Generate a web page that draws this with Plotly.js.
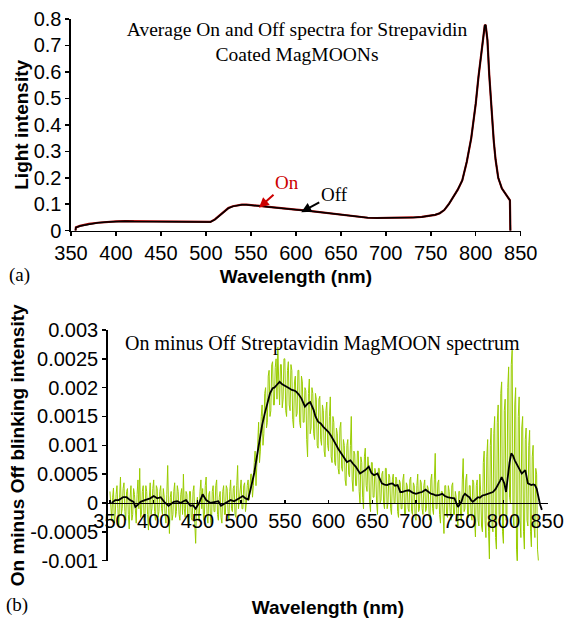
<!DOCTYPE html>
<html>
<head>
<meta charset="utf-8">
<script src="https://cdn.plot.ly/plotly-3.0.1.min.js"></script>
<style>html,body{margin:0;padding:0;background:#fff;}#chart{width:566px;height:619px;}</style>
</head>
<body>
<div id="chart"></div>
<script>
// ---------- Panel (a): average On and Off spectra ----------
const topWavelength = [355,355.5,360,370,380,390,400,410,420,440,
  460,480,500,505,510,515,520,525,530,535,
  540,545,550,560,570,580,590,600,610,620,
  630,640,650,660,670,680,690,700,710,720,
  730,740,750,755,760,765,770,775,780,785,
  790,795,800,803,806,808,810,811,813,815,
  817,820,822,825,829,833,838,838.5];
const offSpectrum = [0,0.012,0.018,0.025,0.030,0.033,0.035,0.036,0.035,0.034,
  0.033,0.033,0.032,0.033,0.042,0.057,0.072,0.085,0.092,0.096,
  0.098,0.098,0.097,0.093,0.090,0.087,0.084,0.080,0.077,0.073,
  0.069,0.065,0.060,0.056,0.052,0.049,0.048,0.048,0.048,0.049,
  0.050,0.052,0.057,0.060,0.066,0.078,0.10,0.125,0.155,0.19,
  0.26,0.35,0.48,0.58,0.67,0.73,0.775,0.778,0.72,0.59,
  0.48,0.34,0.27,0.20,0.16,0.14,0.115,0];
const onSpectrum = [0,0.0125,0.018,0.0255,0.030,0.0335,0.0355,0.036,0.0355,0.034,
  0.0335,0.033,0.032,0.033,0.0425,0.0575,0.0725,0.0855,0.0925,0.0965,
  0.0985,0.0985,0.0975,0.0935,0.090,0.0875,0.084,0.080,0.077,0.073,
  0.069,0.065,0.060,0.056,0.052,0.049,0.048,0.048,0.0485,0.049,
  0.050,0.052,0.057,0.060,0.066,0.078,0.10,0.125,0.155,0.19,
  0.26,0.35,0.48,0.58,0.67,0.73,0.775,0.778,0.72,0.59,
  0.48,0.34,0.27,0.20,0.16,0.14,0.115,0];

// ---------- Panel (b): On minus Off spectrum (raw, 1 nm) ----------
const diffWavelength = [
  350,351,352,353,354,355,356,357,358,359, 360,361,362,363,364,365,366,367,368,369,
  370,371,372,373,374,375,376,377,378,379, 380,381,382,383,384,385,386,387,388,389,
  390,391,392,393,394,395,396,397,398,399, 400,401,402,403,404,405,406,407,408,409,
  410,411,412,413,414,415,416,417,418,419, 420,421,422,423,424,425,426,427,428,429,
  430,431,432,433,434,435,436,437,438,439, 440,441,442,443,444,445,446,447,448,449,
  450,451,452,453,454,455,456,457,458,459, 460,461,462,463,464,465,466,467,468,469,
  470,471,472,473,474,475,476,477,478,479, 480,481,482,483,484,485,486,487,488,489,
  490,491,492,493,494,495,496,497,498,499, 500,501,502,503,504,505,506,507,508,509,
  510,511,512,513,514,515,516,517,518,519, 520,521,522,523,524,525,526,527,528,529,
  530,531,532,533,534,535,536,537,538,539, 540,541,542,543,544,545,546,547,548,549,
  550,551,552,553,554,555,556,557,558,559, 560,561,562,563,564,565,566,567,568,569,
  570,571,572,573,574,575,576,577,578,579, 580,581,582,583,584,585,586,587,588,589,
  590,591,592,593,594,595,596,597,598,599, 600,601,602,603,604,605,606,607,608,609,
  610,611,612,613,614,615,616,617,618,619, 620,621,622,623,624,625,626,627,628,629,
  630,631,632,633,634,635,636,637,638,639, 640,641,642,643,644,645,646,647,648,649,
  650,651,652,653,654,655,656,657,658,659, 660,661,662,663,664,665,666,667,668,669,
  670,671,672,673,674,675,676,677,678,679, 680,681,682,683,684,685,686,687,688,689,
  690,691,692,693,694,695,696,697,698,699, 700,701,702,703,704,705,706,707,708,709,
  710,711,712,713,714,715,716,717,718,719, 720,721,722,723,724,725,726,727,728,729,
  730,731,732,733,734,735,736,737,738,739, 740,741,742,743,744,745,746,747,748,749,
  750,751,752,753,754,755,756,757,758,759, 760,761,762,763,764,765,766,767,768,769,
  770,771,772,773,774,775,776,777,778,779, 780,781,782,783,784,785,786,787,788,789,
  790,791,792,793,794,795,796,797,798,799, 800,801,802,803,804,805,806,807,808,809,
  810,811,812,813,814,815,816,817,818,819, 820,821,822,823,824,825,826,827,828,829,
  830,831,832,833,834,835,836,837,838,839, 840];
const diffRaw = [
  2e-4,-1e-4,-3e-4,1e-4,2.6e-4,-3.5e-4,-2e-4,1.5e-4,3e-4,-1e-4,
  -4.2e-4,1e-4,4.5e-4,-2e-4,-1e-4,2.5e-4,3.5e-4,-1.5e-4,-3e-4,2e-4,
  2.5e-4,-2e-4,-4.5e-4,1e-4,3e-4,-3e-4,-2e-4,2.5e-4,1.5e-4,-1e-4,
  -3.5e-4,1.5e-4,4e-4,-1e-4,6e-4,-2.5e-4,-2e-4,2e-4,3e-4,-3e-4,
  -2.5e-4,3e-4,2e-4,-2e-4,-4.7e-4,1e-4,3.5e-4,-2e-4,-1e-4,2.5e-4,
  4e-4,-1.5e-4,-3e-4,3e-4,2.5e-4,-2.5e-4,-1.5e-4,2e-4,3e-4,-1e-4,
  -2e-4,2.5e-4,1e-4,-2e-4,-3.5e-4,1.5e-4,6.5e-4,-1e-4,-5.3e-4,1e-4,
  2e-4,-3e-4,-2e-4,2e-4,3.5e-4,-2.5e-4,-1.5e-4,3e-4,2e-4,-2e-4,
  -3e-4,1.5e-4,2.5e-4,-2e-4,5e-4,-1e-4,-2.5e-4,2e-4,1.5e-4,-3e-4,
  -4e-4,2e-4,2e-4,-2.5e-4,-3e-4,2e-4,3e-4,-3.5e-4,-7e-4,0,
  1e-4,-2e-4,-3e-4,2e-4,4e-4,-1e-4,2.5e-4,-3e-4,-2e-4,3e-4,
  4.5e-4,-2e-4,-3.5e-4,1.5e-4,2e-4,-3e-4,-4e-4,2e-4,3e-4,-1.5e-4,
  -1.5e-4,3e-4,4e-4,-2e-4,-3e-4,1e-4,2e-4,-2.5e-4,-3.5e-4,2e-4,
  3e-4,-2e-4,-2e-4,3e-4,2.5e-4,-1.5e-4,-3e-4,2e-4,4e-4,-1e-4,
  -1.5e-4,2.5e-4,3e-4,-2e-4,-2.5e-4,3e-4,6.5e-4,-1e-4,1e-4,3e-4,
  4e-4,-1e-4,-1e-4,3e-4,3.5e-4,-1.5e-4,0,3e-4,4e-4,0.5e-4,
  2e-4,5e-4,5e-4,1e-4,3e-4,7e-4,9e-4,3e-4,6e-4,11e-4,
  14e-4,7e-4,9e-4,15e-4,17e-4,10e-4,12e-4,19e-4,20e-4,13e-4,
  14e-4,22e-4,23e-4,15e-4,16e-4,24e-4,24.5e-4,17e-4,17e-4,23.5e-4,
  25e-4,18e-4,27e-4,21e-4,17e-4,24e-4,24e-4,16.5e-4,18e-4,25e-4,
  25e-4,16e-4,15e-4,23e-4,24.5e-4,17e-4,16e-4,24e-4,23e-4,14.5e-4,
  13e-4,21e-4,22e-4,15e-4,15.5e-4,23e-4,23e-4,14e-4,13e-4,22e-4,
  21e-4,14e-4,14e-4,20e-4,19.5e-4,11e-4,8e-4,19e-4,21.5e-4,12e-4,
  13e-4,20e-4,19e-4,12e-4,11e-4,19e-4,18e-4,10e-4,9.5e-4,18e-4,
  18.5e-4,11e-4,10e-4,17e-4,16e-4,9e-4,8e-4,16e-4,17.5e-4,10e-4,
  9e-4,15e-4,18.4e-4,8e-4,7e-4,15e-4,14e-4,7e-4,6.5e-4,13e-4,
  12e-4,6e-4,5e-4,13e-4,14e-4,6e-4,5.5e-4,11e-4,10e-4,4e-4,
  3e-4,10e-4,11e-4,5e-4,4.5e-4,10e-4,15e-4,4e-4,2e-4,9e-4,
  8.5e-4,3e-4,3e-4,9e-4,9e-4,2e-4,0,8e-4,7e-4,1e-4,
  -1e-4,8e-4,9.5e-4,3e-4,2e-4,8e-4,6e-4,0,-1.5e-4,7e-4,
  7e-4,1e-4,1e-4,6e-4,5e-4,0,-2e-4,6e-4,6e-4,0,
  0.5e-4,5e-4,5.5e-4,0,-1e-4,6e-4,6e-4,-1e-4,0,5e-4,
  4.5e-4,-1e-4,-2e-4,4e-4,5e-4,0,0,4.5e-4,4e-4,-1.5e-4,
  -2.5e-4,4e-4,3.5e-4,-1e-4,-1e-4,4e-4,5e-4,-2e-4,-2e-4,3.5e-4,
  3e-4,-1e-4,-1.5e-4,4e-4,4.5e-4,-1.5e-4,-2e-4,3.5e-4,3e-4,-2.5e-4,
  -3e-4,3e-4,5e-4,-1.5e-4,-1e-4,4e-4,3.5e-4,-1e-4,-2e-4,3e-4,
  4e-4,-1.5e-4,-1e-4,3e-4,2.5e-4,-2e-4,-3e-4,4e-4,5e-4,-1e-4,
  -2e-4,4e-4,8.6e-4,-1e-4,-1e-4,3.5e-4,4e-4,-2e-4,-3.5e-4,2e-4,
  2e-4,-2e-4,-5.3e-4,3e-4,3e-4,-2e-4,-2.5e-4,3e-4,2e-4,-1.5e-4,
  -3e-4,3e-4,3.5e-4,-2e-4,-2e-4,2e-4,1e-4,-3e-4,-4e-4,2e-4,
  2e-4,-2e-4,-3e-4,4e-4,7.7e-4,-1.5e-4,-1e-4,4e-4,5e-4,-2e-4,
  -2.5e-4,3e-4,3e-4,-2e-4,-3e-4,4e-4,3.5e-4,-3e-4,-5.9e-4,3e-4,
  4e-4,-3e-4,-4e-4,5e-4,2e-4,-4e-4,-5e-4,7e-4,9e-4,-3e-4,
  -6e-4,8e-4,11e-4,-5e-4,-9.7e-4,10e-4,13e-4,-4e-4,-5e-4,12e-4,
  15e-4,-6e-4,-8e-4,14e-4,17e-4,-2e-4,-3e-4,19e-4,21e-4,-5e-4,
  -7e-4,16e-4,18e-4,-3e-4,-2e-4,20e-4,23.6e-4,1e-4,0,24e-4,
  26.5e-4,-2e-4,-4e-4,17e-4,20e-4,-8e-4,-11.4e-4,15e-4,18.4e-4,-3e-4,
  -6e-4,13e-4,15e-4,-5e-4,-8e-4,11e-4,13e-4,-3e-4,-4e-4,10e-4,
  12.6e-4,-5e-4,-7.6e-4,8e-4,10e-4,-4e-4,-6e-4,6e-4,5e-4,-8e-4,
  -10e-4];

// ---------- Panel (b): smoothed On minus Off ----------
const smoothWavelength = [352,356,360,365,369,373,377,379,382,385,
  390,396,400,404,408,412,417,420,423,427,
  431,434,437,442,445,448,452,456,460,465,
  471,474,477,480,483,488,492,495,498,502,
  505,508,511,515,518,521,524,527,530,533,
  536,538,541,544,547,550,554,558,561,563,
  566,569,573,576,579,583,585,588,591,594,
  597,600,603,606,609,611,615,618,621,625,
  628,631,636,639,642,646,649,652,656,658,
  661,664,667,670,673,676,679,682,684,688,
  692,696,700,704,707,711,714,717,720,723,
  727,730,733,736,740,744,748,750,752,754,
  756,759,761,763,765,768,771,773,776,779,
  782,785,788,791,794,796,798,800,801,803,
  805,807,809,811,813,815,817,819,821,823,
  825,828,830,832,834,836,838,840,842,844];
const smoothDiff = [0,0.5e-4,0.5e-4,1e-4,1e-4,0.5e-4,0.2e-4,-0.7e-4,-0.3e-4,0.2e-4,
  0.5e-4,0.8e-4,1.2e-4,0.8e-4,1e-4,0.2e-4,-0.5e-4,-0.2e-4,0.2e-4,0.3e-4,
  0,0.3e-4,0.5e-4,-0.5e-4,-0.4e-4,-1e-4,0,1.5e-4,0.5e-4,0,
  0.2e-4,0.3e-4,-0.5e-4,-0.2e-4,0,0.5e-4,0.3e-4,0.6e-4,0.8e-4,1.2e-4,
  0.8e-4,0.6e-4,2.5e-4,5.2e-4,8e-4,11e-4,13.5e-4,15.5e-4,17.5e-4,19e-4,
  19.9e-4,20e-4,20.5e-4,21e-4,20.6e-4,20.4e-4,20e-4,19.6e-4,19.5e-4,19.3e-4,
  18.8e-4,18.1e-4,16.7e-4,17.2e-4,17.5e-4,16.1e-4,15e-4,14.1e-4,13.8e-4,13.2e-4,
  12.8e-4,12.3e-4,11.6e-4,10.9e-4,10e-4,9.4e-4,8.6e-4,7.8e-4,7.1e-4,7.4e-4,
  6.8e-4,6.3e-4,5.1e-4,5.4e-4,5.7e-4,6.3e-4,5.2e-4,4.8e-4,5.1e-4,4.4e-4,
  3.4e-4,3.2e-4,3.1e-4,3.3e-4,3.4e-4,3e-4,3.1e-4,1.9e-4,1.9e-4,2.1e-4,
  2.2e-4,1.8e-4,1.6e-4,1.8e-4,1.9e-4,2.3e-4,1.9e-4,1.6e-4,1.5e-4,1.3e-4,
  1.4e-4,1.6e-4,1.2e-4,1e-4,0.9e-4,0.8e-4,-0.7e-4,-0.2e-4,0.2e-4,1.2e-4,
  1.6e-4,1.2e-4,1e-4,0.5e-4,0.2e-4,0.6e-4,1e-4,0.9e-4,1.3e-4,1.4e-4,
  1.6e-4,1.7e-4,1.9e-4,2.4e-4,3.1e-4,3.8e-4,4.5e-4,3.6e-4,3.4e-4,1.9e-4,
  5.1e-4,7e-4,8.6e-4,8.2e-4,7.4e-4,6.8e-4,6.3e-4,5.5e-4,5.1e-4,5.4e-4,
  5.7e-4,3.4e-4,3.2e-4,3.1e-4,3.2e-4,3.1e-4,2.5e-4,1e-4,-0.3e-4,-1.2e-4];

// ---------- Tick labels ----------
const bottomYTickVals = [-0.001,-0.0005,0,0.0005,0.001,0.0015,0.002,0.0025,0.003];
const bottomYTickText = ['-0.001','-0.0005','0','0.0005','0.001','0.0015','0.002','0.0025','0.003'];

const SANS = 'Liberation Sans, Arial, sans-serif';
const SERIF = 'Liberation Serif, Times New Roman, serif';

const traces = [
  {x: topWavelength, y: onSpectrum, xaxis:'x', yaxis:'y', mode:'lines', name:'On',
   line:{color:'#a00000', width:2.2}, hoverinfo:'skip'},
  {x: topWavelength, y: offSpectrum, xaxis:'x', yaxis:'y', mode:'lines', name:'Off',
   line:{color:'#000000', width:1.5}, hoverinfo:'skip'},
  {x: diffWavelength, y: diffRaw, xaxis:'x2', yaxis:'y2', mode:'lines', name:'On minus Off',
   line:{color:'#99cc00', width:1}, hoverinfo:'skip'},
  {x: smoothWavelength, y: smoothDiff, xaxis:'x2', yaxis:'y2', mode:'lines', name:'Smoothed',
   line:{color:'#000000', width:1.8}, hoverinfo:'skip'}
];

const y2Domain = [0.0943, 0.4669];
const y2Range = [-0.001, 0.003];
const x2Position = y2Domain[0] + (0 - y2Range[0]) / (y2Range[1] - y2Range[0]) * (y2Domain[1] - y2Domain[0]);

const axisCommon = {
  showline:true, linecolor:'#000', linewidth:1.5, showgrid:false, zeroline:false,
  tickcolor:'#000', tickwidth:1.5, ticklen:4,
  tickfont:{family:SANS, size:20, color:'#000'}
};
const axisTitleFont = {family:SANS, size:19, weight:'bold', color:'#000'};

const layout = {
  width:566, height:619,
  margin:{l:0, r:0, t:0, b:0},
  paper_bgcolor:'#fff', plot_bgcolor:'rgba(0,0,0,0)',
  showlegend:false,
  font:{family:SANS, size:19, color:'#000'},
  title:{text:'Average On and Off spectra for Strepavidin<br>Coated MagMOONs',
    x:297/566, xanchor:'center', y:1-36/619, yanchor:'middle',
    font:{family:SERIF, size:19.5, color:'#000'}},
  xaxis: Object.assign({}, axisCommon, {
    domain:[0.1254, 0.92], range:[350, 850], tick0:350, dtick:50, ticks:'outside', anchor:'y',
    title:{text:'Wavelength (nm)', standoff:6, font:axisTitleFont}
  }),
  yaxis: Object.assign({}, axisCommon, {
    domain:[0.6273, 0.9693], range:[0, 0.8], tick0:0, dtick:0.1, ticks:'outside', anchor:'x',
    title:{text:'Light intensity', standoff:0, font:axisTitleFont}
  }),
  xaxis2: Object.assign({}, axisCommon, {
    domain:[0.1903, 0.9682], range:[347.4, 851], tick0:350, dtick:50, ticks:'inside', ticklen:3,
    anchor:'free', position:x2Position,
    title:{text:'Wavelength (nm)', standoff:69, font:axisTitleFont}
  }),
  yaxis2: Object.assign({}, axisCommon, {
    domain:y2Domain, range:y2Range, tickmode:'array', tickvals:bottomYTickVals, ticktext:bottomYTickText,
    ticks:'outside', anchor:'x2',
    title:{text:'On minus Off blinking intensity', standoff:0, font:axisTitleFont}
  }),
  annotations:[
    {text:'On', xref:'x', yref:'y', x:559, y:0.087, ax:28, ay:-25, showarrow:true,
     arrowhead:2, arrowsize:1, arrowwidth:2, arrowcolor:'#cc0000',
     font:{family:SERIF, size:19, color:'#cc0000'}},
    {text:'Off', xref:'x', yref:'y', x:606, y:0.07, ax:33, ay:-18, showarrow:true,
     arrowhead:2, arrowsize:1, arrowwidth:2, arrowcolor:'#000',
     font:{family:SERIF, size:19, color:'#000'}},
    {text:'On minus Off Streptavidin MagMOON spectrum', xref:'paper', yref:'paper',
     x:322/566, y:1-343/619, xanchor:'center', yanchor:'middle', showarrow:false,
     font:{family:SERIF, size:20, color:'#000'}},
    {text:'(a)', xref:'paper', yref:'paper', x:19/566, y:1-275/619, xanchor:'center', yanchor:'middle',
     showarrow:false, font:{family:SERIF, size:19, color:'#000'}},
    {text:'(b)', xref:'paper', yref:'paper', x:17/566, y:1-605/619, xanchor:'center', yanchor:'middle',
     showarrow:false, font:{family:SERIF, size:19, color:'#000'}}
  ]
};

Plotly.newPlot('chart', traces, layout, {staticPlot:true, displayModeBar:false});
</script>
</body>
</html>
